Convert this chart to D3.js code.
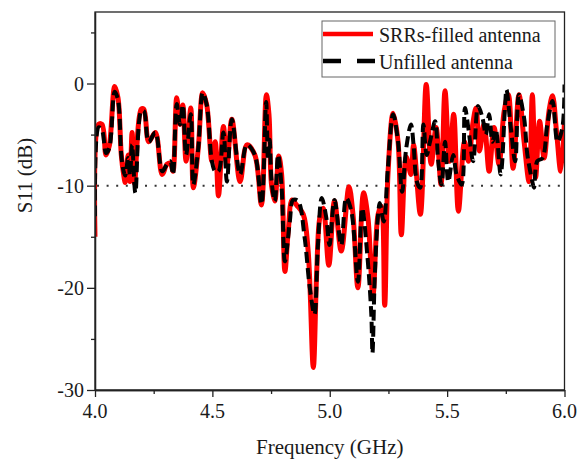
<!DOCTYPE html>
<html>
<head>
<meta charset="utf-8">
<script src="https://cdn.jsdelivr.net/npm/d3@7"></script>
<style>
  body { margin: 0; background: #fff; }
  text { font-family: "Liberation Serif", "Times New Roman", serif; fill: #1a1a1a; }
</style>
</head>
<body>
<div id="chart"></div>
<script>
'use strict';

// S11 of the SRRs-filled antenna (GHz, dB)
var redFreq = [4.000, 4.015, 4.030, 4.047, 4.061, 4.084, 4.098, 4.112, 4.122, 4.129,
  4.141, 4.149, 4.158, 4.168, 4.197, 4.208, 4.229, 4.257, 4.286, 4.307,
  4.321, 4.332, 4.348, 4.362, 4.374, 4.388, 4.408, 4.419, 4.440, 4.459,
  4.476, 4.498, 4.512, 4.526, 4.547, 4.562, 4.583, 4.618, 4.647, 4.681,
  4.709, 4.730, 4.741, 4.752, 4.766, 4.783, 4.795, 4.809, 4.823, 4.840,
  4.859, 4.887, 4.908, 4.930, 4.944, 4.958, 4.972, 4.996, 5.020, 5.049,
  5.082, 5.099, 5.120, 5.144, 5.163, 5.184, 5.206, 5.220, 5.234, 5.248,
  5.270, 5.291, 5.305, 5.326, 5.346, 5.357, 5.386, 5.411, 5.432, 5.453,
  5.474, 5.491, 5.510, 5.528, 5.548, 5.574, 5.591, 5.609, 5.623, 5.638,
  5.656, 5.664, 5.679, 5.700, 5.721, 5.743, 5.761, 5.781, 5.806, 5.828,
  5.849, 5.863, 5.877, 5.894, 5.913, 5.934, 5.949, 5.966, 5.984, 6.000];
var redS11 = [-15.0, -4.0, -4.0, -7.0, -6.1, -0.3, -1.4, -7.0, -8.9, -9.7,
  -7.0, -9.6, -4.8, -9.8, -2.5, -2.5, -5.7, -4.8, -8.9, -7.9,
  -7.8, -8.6, -1.4, -4.0, -2.1, -7.6, -2.4, -10.2, -6.3, -0.9,
  -2.1, -7.6, -5.7, -11.0, -4.2, -7.9, -3.5, -9.6, -6.0, -7.0,
  -11.9, -1.1, -3.0, -9.9, -11.5, -7.1, -8.9, -18.4, -14.5, -11.4,
  -11.9, -12.8, -16.4, -27.8, -18.7, -13.1, -12.2, -17.8, -11.5, -16.4,
  -10.1, -12.8, -20.0, -10.7, -13.2, -20.7, -12.8, -12.0, -21.7, -8.9,
  -2.9, -5.7, -14.8, -7.2, -8.9, -6.0, -12.8, -0.1, -7.9, -4.3,
  -9.9, -0.7, -7.6, -3.0, -12.5, -5.7, -7.6, -4.0, -2.4, -6.6,
  -4.0, -5.0, -8.6, -4.3, -7.9, -2.7, -1.1, -8.3, -1.1, -5.7,
  -9.6, -1.1, -9.2, -3.7, -7.3, -2.7, -1.2, -4.7, -8.6, -3.7];

// S11 of the unfilled antenna
var blackFreq = [4.000, 4.015, 4.030, 4.047, 4.061, 4.084, 4.098, 4.112, 4.122, 4.129,
  4.141, 4.149, 4.158, 4.172, 4.197, 4.208, 4.229, 4.257, 4.286, 4.307,
  4.321, 4.332, 4.348, 4.362, 4.374, 4.388, 4.408, 4.419, 4.440, 4.459,
  4.476, 4.498, 4.512, 4.526, 4.547, 4.562, 4.583, 4.618, 4.647, 4.681,
  4.709, 4.729, 4.737, 4.744, 4.752, 4.766, 4.780, 4.795, 4.809, 4.830,
  4.844, 4.865, 4.893, 4.915, 4.935, 4.949, 4.966, 4.985, 4.999, 5.020,
  5.049, 5.070, 5.092, 5.120, 5.138, 5.160, 5.177, 5.182, 5.192, 5.206,
  5.213, 5.230, 5.248, 5.270, 5.291, 5.308, 5.326, 5.346, 5.357, 5.371,
  5.385, 5.399, 5.413, 5.427, 5.449, 5.462, 5.476, 5.491, 5.505, 5.526,
  5.540, 5.562, 5.576, 5.590, 5.611, 5.632, 5.651, 5.665, 5.679, 5.693,
  5.707, 5.728, 5.747, 5.753, 5.771, 5.790, 5.806, 5.828, 5.842, 5.863,
  5.870, 5.884, 5.906, 5.927, 5.949, 5.970, 5.991, 6.000];
var blackS11 = [-13.0, -4.3, -4.6, -6.8, -6.3, -0.8, -1.6, -7.0, -8.6, -9.0,
  -7.3, -9.0, -6.0, -10.7, -2.7, -2.7, -5.7, -4.8, -8.6, -7.9,
  -7.6, -8.9, -2.0, -4.0, -2.1, -7.0, -3.0, -9.9, -6.3, -0.9,
  -2.1, -7.6, -8.6, -8.6, -4.8, -9.6, -3.5, -8.9, -6.0, -7.0,
  -11.8, -1.8, -7.5, -5.5, -9.5, -11.5, -7.0, -10.2, -17.4, -13.5,
  -11.4, -11.5, -15.1, -20.0, -22.6, -16.1, -11.2, -13.1, -15.8, -11.4,
  -15.8, -11.2, -12.5, -19.4, -12.2, -16.8, -22.6, -26.4, -18.7, -12.8,
  -11.7, -13.5, -8.2, -3.0, -5.7, -10.6, -6.3, -4.0, -6.0, -9.6,
  -10.2, -4.0, -7.0, -5.7, -3.7, -7.6, -9.9, -5.7, -9.6, -7.0,
  -8.9, -9.9, -2.4, -4.3, -7.6, -2.2, -3.4, -5.0, -3.0, -5.7,
  -4.5, -8.9, -2.1, -0.6, -4.3, -7.6, -1.1, -3.4, -7.0, -9.6,
  -10.2, -7.6, -7.3, -4.0, -1.7, -5.7, -4.3, -0.1];

var xMajor = [4.0, 4.5, 5.0, 5.5, 6.0];
var xMinor = [4.25, 4.75, 5.25, 5.75];
var yMajor = [-30, -20, -10, 0];
var yMinor = [-25, -15, -5, 5];
var threshold = -10;
var seriesNames = ['SRRs-filled antenna', 'Unfilled antenna'];

var outerWidth = 584;
var outerHeight = 460;
var margin = {left: 95, top: 12, right: 19.5, bottom: 70};
var innerWidth = outerWidth - margin.left - margin.right;
var innerHeight = outerHeight - margin.top - margin.bottom;

var svg = d3.select('#chart').append('svg')
  .attr('width', outerWidth)
  .attr('height', outerHeight);

var g = svg.append('g')
  .attr('transform', 'translate(' + margin.left + ',' + margin.top + ')');

var xScale = d3.scaleLinear().domain([4.0, 6.0]).range([0, innerWidth]);
var yScale = d3.scaleLinear().domain([-30, 7]).range([innerHeight, 0]);

svg.append('defs').append('clipPath').attr('id', 'plotClip')
  .append('rect').attr('width', innerWidth).attr('height', innerHeight);

// dotted -10 dB line
g.append('line')
  .attr('x1', xScale(4.0) + 2).attr('x2', xScale(6.0))
  .attr('y1', yScale(threshold)).attr('y2', yScale(threshold))
  .attr('stroke', '#333').attr('stroke-width', 2)
  .attr('stroke-dasharray', '2,7.6');

function pairs(fs, vs) {
  return fs.map(function(f, i) { return [f, vs[i]]; });
}

var line = d3.line()
  .x(function(d) { return xScale(d[0]); })
  .y(function(d) { return yScale(d[1]); })
  .curve(d3.curveCatmullRom.alpha(0.5));

var plot = g.append('g').attr('clip-path', 'url(#plotClip)');

plot.append('path')
  .datum(pairs(redFreq, redS11))
  .attr('d', line)
  .attr('fill', 'none')
  .attr('stroke', '#ff0000')
  .attr('stroke-width', 5)
  .attr('stroke-linejoin', 'round');

plot.append('path')
  .datum(pairs(blackFreq, blackS11))
  .attr('d', line)
  .attr('fill', 'none')
  .attr('stroke', '#000')
  .attr('stroke-width', 4)
  .attr('stroke-dasharray', '11,5');

// frame
g.append('rect')
  .attr('width', innerWidth).attr('height', innerHeight)
  .attr('fill', 'none').attr('stroke', '#222').attr('stroke-width', 1.3);

// axes: d3 draws the tick marks, labels are placed below as plain text
function ticksOnly(axis) {
  return function(sel) { sel.call(axis); sel.selectAll('text').remove(); };
}
g.append('g').attr('transform', 'translate(0,' + innerHeight + ')')
  .call(ticksOnly(d3.axisBottom(xScale).tickValues(xMajor).tickSize(7).tickSizeOuter(0)));
g.append('g').attr('transform', 'translate(0,' + innerHeight + ')')
  .call(ticksOnly(d3.axisBottom(xScale).tickValues(xMinor).tickSize(4).tickSizeOuter(0)));
g.append('g')
  .call(ticksOnly(d3.axisLeft(yScale).tickValues(yMajor).tickSize(8).tickSizeOuter(0)));
g.append('g')
  .call(ticksOnly(d3.axisLeft(yScale).tickValues(yMinor).tickSize(4).tickSizeOuter(0)));

g.selectAll('.domain').attr('stroke', '#222').attr('stroke-width', 1.3);
g.selectAll('.tick line').attr('stroke', '#222').attr('stroke-width', 1.3);

var fmt = d3.format('.1f');
g.selectAll('text.xlab').data(xMajor).enter().append('text')
  .attr('class', 'xlab')
  .attr('x', function(d) { return xScale(d); })
  .attr('y', innerHeight + 28)
  .attr('text-anchor', 'middle')
  .attr('font-size', 20)
  .text(function(d) { return fmt(d); });

g.selectAll('text.ylab').data(yMajor).enter().append('text')
  .attr('class', 'ylab')
  .attr('x', -11)
  .attr('y', function(d) { return yScale(d) + 7; })
  .attr('text-anchor', 'end')
  .attr('font-size', 20)
  .text(function(d) { return d; });

// axis titles
svg.append('text')
  .attr('x', margin.left + innerWidth / 2).attr('y', 454)
  .attr('text-anchor', 'middle')
  .attr('font-size', 21)
  .text('Frequency (GHz)');

svg.append('text')
  .attr('transform', 'translate(32,' + (margin.top + yScale(-9)) + ') rotate(-90)')
  .attr('text-anchor', 'middle')
  .attr('font-size', 21)
  .text('S11 (dB)');

// legend
var legend = svg.append('g');
legend.append('rect')
  .attr('x', 322).attr('y', 21).attr('width', 233).attr('height', 56)
  .attr('fill', '#fff').attr('stroke', '#666').attr('stroke-width', 1);
legend.append('line')
  .attr('x1', 323).attr('x2', 373).attr('y1', 34).attr('y2', 34)
  .attr('stroke', '#ff0000').attr('stroke-width', 4.5);
legend.append('line')
  .attr('x1', 323).attr('x2', 375).attr('y1', 61).attr('y2', 61)
  .attr('stroke', '#000').attr('stroke-width', 4.5)
  .attr('stroke-dasharray', '18,16');
legend.selectAll('text.lab').data(seriesNames).enter().append('text')
  .attr('class', 'lab')
  .attr('x', 379)
  .attr('y', function(d, i) { return 42 + i * 27; })
  .attr('font-size', 20)
  .text(function(d) { return d; });
</script>
</body>
</html>
